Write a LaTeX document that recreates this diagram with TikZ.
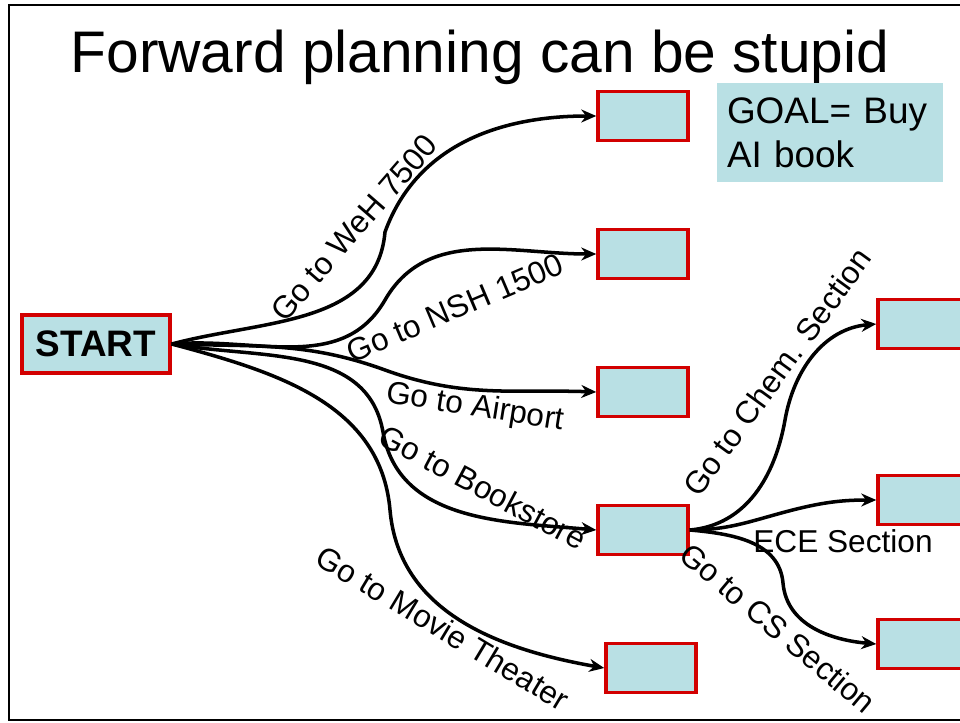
\documentclass[tikz,border=0pt]{standalone}
\usepackage{fontspec}
\setmainfont{Liberation Sans}
\usetikzlibrary{arrows.meta}
\definecolor{boxblue}{RGB}{185,224,228}
\definecolor{boxred}{RGB}{210,0,0}

\begin{document}
\begin{tikzpicture}[x=0.02cm,y=0.02cm,
  state/.style={draw=boxred,line width=2pt,fill=boxblue,minimum width=1.8cm,minimum height=0.98cm,inner sep=0pt},
  lbl/.style={font=\fontsize{18}{21}\selectfont,inner sep=0pt},
  edge/.style={line width=2pt,-{Stealth[length=3mm,width=2.6mm]}}]
\clip (0,0) rectangle (960,-723);
\draw[line width=1.2pt]
(980,-5) -- (9,-5) -- (9,-720) -- (980,-720);
\node[anchor=base,font=\fontsize{33.4}{38}\selectfont] (title) at (480,-72) {Forward planning can be stupid};
\node[fill=boxblue,text width=4.12cm,inner xsep=0.2cm,minimum height=1.98cm,align=left,
  font=\fontsize{21}{25}\selectfont] (goal) at (830,-132.5) {GOAL= Buy\\AI book};

% states
\node[state,minimum width=2.96cm,minimum height=1.16cm,font=\fontsize{21}{24}\selectfont\bfseries] (start) at (96,-344) {START};
\node[state] (weh) at (643,-116) {};
\node[state] (nsh) at (643,-254) {};
\node[state] (air) at (643,-392) {};
\node[state] (book) at (643,-530) {};
\node[state] (movie) at (651,-668) {};
\node[state] (chem) at (923,-324) {};
\node[state] (ece) at (923,-500) {};
\node[state] (cs) at (923,-644) {};

% bends
\coordinate (k1) at (385,-232);
\coordinate (k2) at (385,-300);
\coordinate (k3) at (385,-370);
\coordinate (k4) at (383,-432);
\coordinate (k5) at (390,-510);
\coordinate (k6) at (785,-420);
\coordinate (k7) at (785,-512);
\coordinate (k8) at (783,-583);

\draw[edge] (start.east) to[out=15,in=-95] (k1) to[out=70,in=180] (weh.west);
\draw[edge] (start.east) to[out=5,in=-120] (k2) to[out=60,in=180] (nsh.west);
\draw[edge] (start.east) to[out=-2,in=160] (k3) to[out=-20,in=178] (air.west);
\draw[edge] (start.east) to[out=-10,in=100] (k4) to[out=-80,in=175] (book.west);
\draw[edge] (start.east) to[out=-15,in=95] (k5) to[out=-85,in=170] (movie.west);
\draw[edge] (book.east) to[out=5,in=-100] (k6) to[out=80,in=185] (chem.west);
\draw[edge] (book.east) to[out=0,in=-165] (k7) to[out=15,in=180] (ece.west);
\draw[edge] (book.east) to[out=-5,in=95] (k8) to[out=-85,in=175] (cs.west);

% labels
\node[lbl,rotate=49] (l1) at (354,-228) {Go to WeH 7500};
\node[lbl,rotate=23] (l2) at (455,-308) {Go to NSH 1500};
\node[lbl,rotate=-9] (l3) at (475,-408) {Go to Airport};
\node[lbl,rotate=-28] (l4) at (483,-487) {Go to Bookstore};
\node[lbl,rotate=-31] (l5) at (443,-628) {Go to Movie Theater};
\node[lbl,rotate=54] (l6) at (777,-372) {Go to Chem. Section};
\node[lbl] (l7) at (843,-541) {ECE Section};
\node[lbl,rotate=-40] (l8) at (778,-628) {Go to CS Section};
\end{tikzpicture}
\end{document}
